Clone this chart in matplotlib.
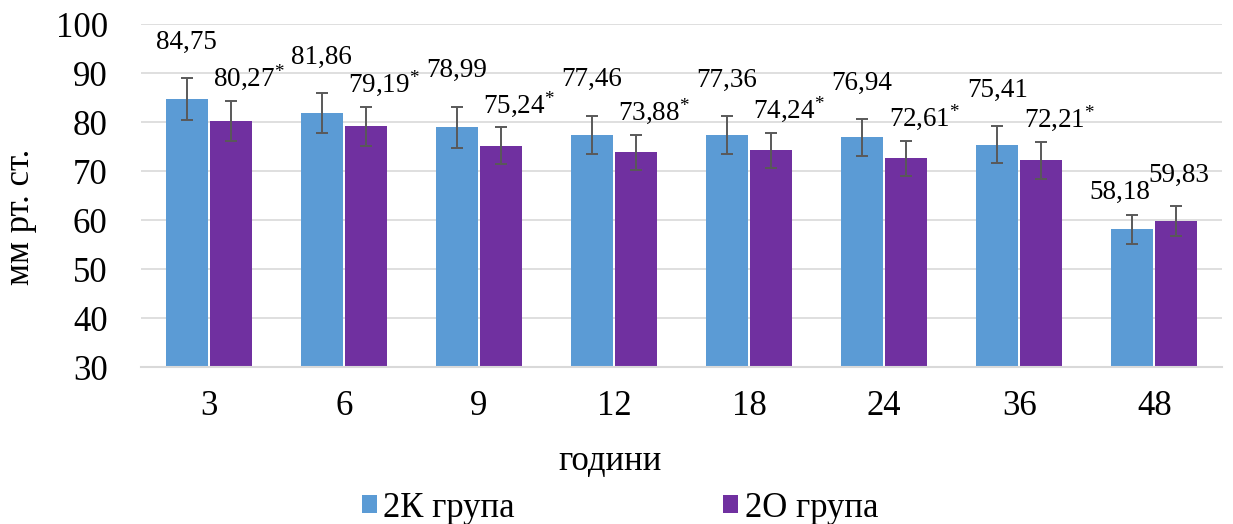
import numpy as np
import matplotlib
matplotlib.use('Agg')
import matplotlib.pyplot as plt

plt.rcParams['font.family'] = ['Liberation Serif', 'DejaVu Serif']
plt.rcParams['mathtext.fontset'] = 'custom'
plt.rcParams['mathtext.rm'] = 'Liberation Serif'
plt.rcParams['mathtext.it'] = 'Liberation Serif'

hours = ['3', '6', '9', '12', '18', '24', '36', '48']
k_vals = [84.75, 81.86, 78.99, 77.46, 77.36, 76.94, 75.41, 58.18]
o_vals = [80.27, 79.19, 75.24, 73.88, 74.24, 72.61, 72.21, 59.83]
k_err = [4.3, 4.0, 4.2, 3.9, 3.9, 3.8, 3.8, 3.0]
o_err = [4.0, 4.0, 3.7, 3.6, 3.6, 3.6, 3.7, 3.0]
o_star = [True, True, True, True, True, True, True, False]

blue = '#5b9bd5'
purple = '#7030a0'

fig, ax = plt.subplots(figsize=(12.33, 5.24), dpi=100)
fig.subplots_adjust(left=0.1144, right=0.991, top=0.954, bottom=0.2987)

x = np.arange(len(hours))
w = 0.311
gap = 0.0075
ekw = dict(ecolor='#595959', elinewidth=1.4, capsize=4, capthick=1.4)
ax.bar(x - w/2 - gap, k_vals, w, color=blue, label='2К група', zorder=2,
       yerr=k_err, error_kw=ekw)
ax.bar(x + w/2 + gap, o_vals, w, color=purple, label='2О група', zorder=2,
       yerr=o_err, error_kw=ekw)

def fmt(v):
    return ('%.2f' % v).replace('.', ',')

for i in range(len(hours)):
    if o_star[i]:
        kdx, kdy, odx, ody = 0, 21, 9, 11
    else:
        kdx, kdy, odx, ody = -9, 11, 2, 18
    ax.annotate(fmt(k_vals[i]), (x[i] - w/2 - gap, k_vals[i] + k_err[i]),
                xytext=(kdx, kdy), textcoords='offset points', ha='center',
                va='baseline', fontsize=19.5)
    lab = fmt(o_vals[i]) + ('$^{*}$' if o_star[i] else '')
    ax.annotate(lab, (x[i] + w/2 + gap, o_vals[i] + o_err[i]),
                xytext=(odx + (4 if o_star[i] else 0), ody), textcoords='offset points',
                ha='center', va='baseline', fontsize=19.5)

ax.set_ylim(30, 100)
ax.set_yticks(range(30, 101, 10))
ax.set_xlim(-0.5, len(hours) - 0.5)
ax.set_xticks(x)
ax.set_xticklabels(hours)
ax.tick_params(axis='both', labelsize=25, length=0)
ax.tick_params(axis='x', pad=16)
ax.tick_params(axis='y', pad=24)
ax.grid(axis='y', color='#d9d9d9', linewidth=1.2, zorder=0)
for s in ['top', 'right', 'left']:
    ax.spines[s].set_visible(False)
ax.spines['bottom'].set_color('#d9d9d9')
ax.spines['bottom'].set_linewidth(1.5)

ax.set_xlabel('години', fontsize=25)
ax.xaxis.set_label_coords(0.434, -0.225)
ax.set_ylabel('мм рт. ст.', fontsize=25)
ax.yaxis.set_label_coords(-0.096, 0.44)

fig.legend(loc='center', bbox_to_anchor=(0.503, 0.03), ncol=2, frameon=False,
           fontsize=25, handlelength=0.43, handleheight=0.43, handletextpad=0.2,
           columnspacing=6.0, borderpad=0, borderaxespad=0)

fig.savefig('out.png', dpi=100)
